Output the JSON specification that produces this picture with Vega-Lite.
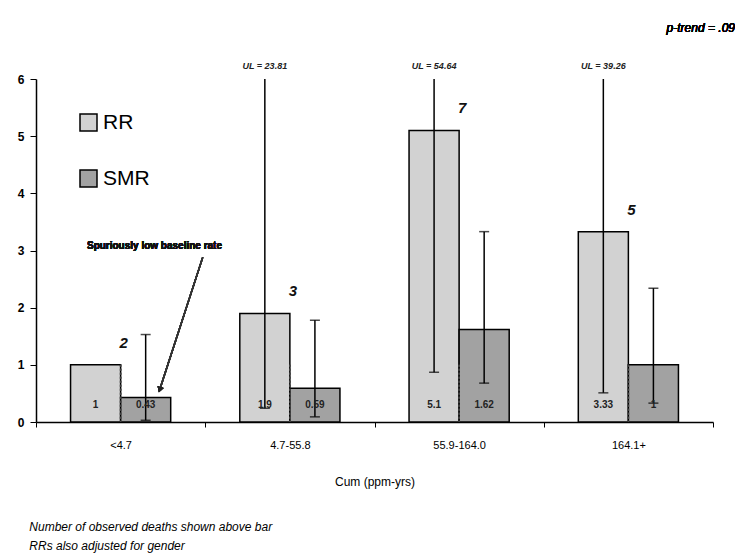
{
  "$schema": "https://vega.github.io/schema/vega-lite/v6.json",
  "width": 677,
  "height": 343,
  "autosize": "none",
  "padding": {"left": 36, "top": 79, "right": 22, "bottom": 138},
  "background": "white",
  "config": {
    "font": "Liberation Sans",
    "view": {"stroke": null},
    "axis": {"grid": false}
  },
  "title": {
    "text": ["Number of observed deaths shown above bar", "RRs also adjusted for gender"],
    "orient": "bottom",
    "anchor": "start",
    "fontSize": 12,
    "fontStyle": "italic",
    "fontWeight": "normal",
    "color": "black",
    "lineHeight": 19,
    "offset": 35,
    "dx": 12
  },
  "data": {
    "values": [
      {"cat": "<4.7", "series": "RR", "value": 1, "lower": null, "upper": null, "label": "1", "deaths": 2, "ul": null},
      {"cat": "<4.7", "series": "SMR", "value": 0.43, "lower": 0.03, "upper": 1.53, "label": "0.43", "deaths": null, "ul": null},
      {"cat": "4.7-55.8", "series": "RR", "value": 1.9, "lower": 0.24, "upper": 23.81, "label": "1.9", "deaths": 3, "ul": "UL = 23.81"},
      {"cat": "4.7-55.8", "series": "SMR", "value": 0.59, "lower": 0.09, "upper": 1.78, "label": "0.59", "deaths": null, "ul": null},
      {"cat": "55.9-164.0", "series": "RR", "value": 5.1, "lower": 0.87, "upper": 54.64, "label": "5.1", "deaths": 7, "ul": "UL = 54.64"},
      {"cat": "55.9-164.0", "series": "SMR", "value": 1.62, "lower": 0.68, "upper": 3.33, "label": "1.62", "deaths": null, "ul": null},
      {"cat": "164.1+", "series": "RR", "value": 3.33, "lower": 0.51, "upper": 39.26, "label": "3.33", "deaths": 5, "ul": "UL = 39.26"},
      {"cat": "164.1+", "series": "SMR", "value": 1, "lower": 0.33, "upper": 2.34, "label": "1", "deaths": null, "ul": null}
    ]
  },
  "resolve": {"scale": {"x": "independent"}},
  "layer": [
    {
      "encoding": {
        "x": {
          "field": "cat", "type": "nominal", "sort": null,
          "scale": {"domain": ["<4.7", "4.7-55.8", "55.9-164.0", "164.1+"], "paddingInner": 0, "paddingOuter": 0},
          "axis": {
            "title": "Cum (ppm-yrs)", "labelAngle": 0, "tickBand": "extent",
            "domainColor": "black", "domainWidth": 1.5, "tickColor": "black", "tickSize": 5,
            "labelFontSize": 11, "labelColor": "black", "labelPadding": 12,
            "titleFontSize": 12, "titleFontWeight": "normal", "titleColor": "black", "titlePadding": 26
          }
        }
      },
      "layer": [
        {
          "mark": {"type": "bar", "stroke": "black", "strokeWidth": 1.5},
          "encoding": {
            "xOffset": {"field": "series", "type": "nominal", "scale": {"paddingInner": 0, "paddingOuter": 0.69}},
            "y": {
              "field": "value", "type": "quantitative", "title": null,
              "scale": {"domain": [0, 6], "nice": false},
              "axis": {
                "values": [0, 1, 2, 3, 4, 5, 6], "format": "d", "domainColor": "black", "domainWidth": 1.5,
                "tickColor": "black", "tickSize": 6, "labelFontSize": 12, "labelFontWeight": "bold",
                "labelColor": "black", "labelPadding": 6
              }
            },
            "fill": {
              "field": "series", "type": "nominal",
              "scale": {"domain": ["RR", "SMR"], "range": ["#d2d2d2", "#a2a2a2"]},
              "legend": {
                "title": null, "orient": "none", "legendX": 42, "legendY": 33,
                "symbolType": "square", "symbolSize": 289, "symbolStrokeColor": "black",
                "symbolStrokeWidth": 1.5, "labelFontSize": 21, "labelColor": "black",
                "rowPadding": 33, "labelOffset": 4
              }
            }
          }
        },
        {
          "mark": {"type": "rule", "strokeDash": [2, 2], "color": "#444", "strokeWidth": 1.5},
          "encoding": {"y": {"datum": 1}}
        },
        {
          "transform": [{"filter": "datum.lower != null"}],
          "mark": {"type": "rule", "color": "black", "strokeWidth": 1.5, "clip": true},
          "encoding": {
            "xOffset": {"field": "series", "type": "nominal", "scale": {"paddingInner": 0, "paddingOuter": 0.69}},
            "y": {"field": "lower", "type": "quantitative", "title": null},
            "y2": {"field": "upper"}
          }
        },
        {
          "transform": [{"filter": "datum.lower != null"}],
          "mark": {"type": "tick", "color": "black", "thickness": 1.5, "size": 10, "orient": "horizontal"},
          "encoding": {
            "xOffset": {"field": "series", "type": "nominal", "scale": {"paddingInner": 0, "paddingOuter": 0.69}},
            "y": {"field": "lower", "type": "quantitative", "title": null}
          }
        },
        {
          "transform": [{"filter": "datum.upper != null && datum.upper <= 6"}],
          "mark": {"type": "tick", "color": "black", "thickness": 1.5, "size": 10, "orient": "horizontal"},
          "encoding": {
            "xOffset": {"field": "series", "type": "nominal", "scale": {"paddingInner": 0, "paddingOuter": 0.69}},
            "y": {"field": "upper", "type": "quantitative", "title": null}
          }
        },
        {
          "mark": {"type": "text", "fontSize": 10, "fontWeight": "bold", "color": "#222", "baseline": "middle"},
          "encoding": {
            "xOffset": {"field": "series", "type": "nominal", "scale": {"paddingInner": 0, "paddingOuter": 0.69}},
            "y": {"datum": 0.3},
            "text": {"field": "label"}
          }
        },
        {
          "transform": [{"filter": "datum.deaths != null"}],
          "mark": {"type": "text", "fontSize": 15, "fontWeight": "bold", "fontStyle": "italic", "color": "#111", "baseline": "middle", "dy": -22, "dx": 3},
          "encoding": {
            "y": {"field": "value", "type": "quantitative", "title": null},
            "text": {"field": "deaths"}
          }
        },
        {
          "transform": [{"filter": "datum.ul != null"}],
          "mark": {"type": "text", "fontSize": 9, "fontStyle": "italic", "fontWeight": "bold", "color": "#222", "baseline": "middle"},
          "encoding": {
            "xOffset": {"field": "series", "type": "nominal", "scale": {"paddingInner": 0, "paddingOuter": 0.69}},
            "y": {"datum": 6.22},
            "text": {"field": "ul"}
          }
        }
      ]
    },
    {
      "encoding": {
        "x": {"type": "quantitative", "scale": {"domain": [0, 4], "nice": false, "zero": false}, "axis": null}
      },
      "layer": [
        {
          "mark": {"type": "text", "align": "right", "baseline": "middle", "fontSize": 12, "fontStyle": "italic", "fontWeight": "normal", "color": "black", "dx": 22},
          "encoding": {"x": {"datum": 4, "type": "quantitative"}, "y": {"datum": 6.89}, "text": {"value": "p-trend = .09"}}
        },
        {
          "mark": {"type": "text", "align": "center", "baseline": "middle", "fontSize": 10, "fontWeight": "bold", "color": "#111"},
          "encoding": {"x": {"datum": 0.70, "type": "quantitative"}, "y": {"datum": 3.07}, "text": {"value": "Spuriously low baseline rate"}}
        },
        {
          "mark": {"type": "rule", "color": "#333", "strokeWidth": 1.5},
          "encoding": {
            "x": {"datum": 0.985, "type": "quantitative"}, "y": {"datum": 2.88},
            "x2": {"datum": 0.737}, "y2": {"datum": 0.62}
          }
        },
        {
          "mark": {"type": "point", "shape": "triangle", "filled": true, "color": "#222", "size": 40, "angle": 198, "opacity": 1},
          "encoding": {"x": {"datum": 0.733, "type": "quantitative"}, "y": {"datum": 0.58}}
        }
      ]
    }
  ]
}
